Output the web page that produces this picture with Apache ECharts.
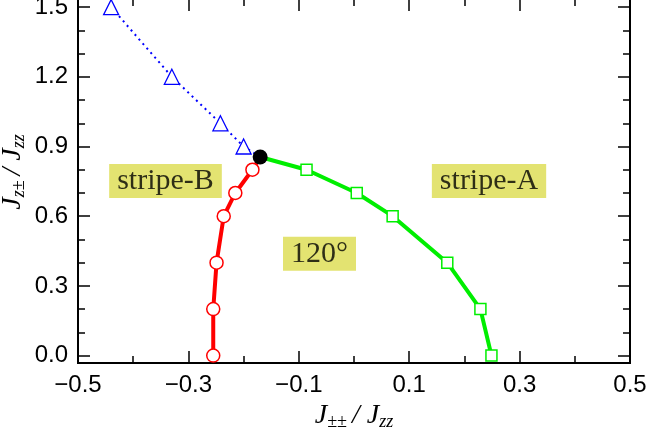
<!DOCTYPE html>
<html>
<head>
<meta charset="utf-8">
<script src="https://cdn.jsdelivr.net/npm/echarts@6/dist/echarts.min.js"></script>
<style>
  html, body { margin: 0; padding: 0; background: #fff; }
  #chart { width: 648px; height: 430px; }
</style>
</head>
<body>
<div id="chart"></div>
<script>
// phase boundary points
const blueLine = [[-0.44, 1.5], [-0.33, 1.2], [-0.242, 1.0], [-0.2, 0.9]];
const redLine = [[-0.255, 0.0], [-0.255, 0.2], [-0.249, 0.4], [-0.236, 0.6], [-0.215, 0.7], [-0.184, 0.8]];
const greenLine = [[0.249, 0.0], [0.229, 0.2], [0.169, 0.4], [0.07, 0.6], [0.005, 0.7], [-0.086, 0.8]];
const junction = [-0.17, 0.855];

const phaseNames = ["stripe-B", "stripe-A", "120°"];
const phasePos = [[-0.3415, 0.752], [0.2446, 0.752], [-0.0625, 0.438]];

const xMajor = [-0.5, -0.3, -0.1, 0.1, 0.3, 0.5];
const xMinor = [-0.4, -0.2, 0.0, 0.2, 0.4];
const yMajor = [0.0, 0.3, 0.6, 0.9, 1.2, 1.5];
const yMinor = [0.1, 0.2, 0.4, 0.5, 0.7, 0.8, 1.0, 1.1, 1.3, 1.4];

const chart = echarts.init(document.getElementById("chart"));

const xRange = { min: -0.5, max: 0.5 };
const yRange = { min: -0.032, max: 1.535 };
const frameLine = { show: true, onZero: false, lineStyle: { color: "#000", width: 2 } };
const labelFont = { color: "#000", fontSize: 24, fontFamily: "Liberation Sans, Arial, sans-serif" };
const serif = "Liberation Serif, Times New Roman, serif";

function fmtNum(v) {
  return (v < 0 ? "\u2212" : "") + Math.abs(v).toFixed(1);
}

function tickAxis(base, position, values, len, withLabel) {
  return Object.assign({
    type: "value",
    position: position,
    axisLine: frameLine,
    splitLine: { show: false },
    axisTick: { show: true, inside: true, length: len, customValues: values, lineStyle: { color: "#000", width: 1.5 } },
    axisLabel: withLabel
      ? Object.assign({ show: true, customValues: values, margin: 10, formatter: fmtNum }, labelFont)
      : { show: false }
  }, base);
}

function withJunction(points) {
  return points.map(p => ({ value: p })).concat([{ value: junction, symbol: "none" }]);
}

// subscripts drop to the bottom of the taller main-letter line
const richTitle = {
  j: { fontFamily: serif, fontStyle: "italic", fontSize: 28, lineHeight: 30, color: "#000" },
  d: { fontFamily: serif, fontStyle: "italic", fontSize: 28, lineHeight: 30, color: "#000", padding: [0, 7, 0, 5] },
  s: { fontFamily: serif, fontStyle: "italic", fontSize: 18, lineHeight: 12, verticalAlign: "bottom", color: "#000" }
};

chart.setOption({
  animation: false,
  backgroundColor: "#fff",
  grid: { left: 78, right: 18, top: -1, bottom: 67, containLabel: false, outerBoundsMode: "none" },
  xAxis: [
    tickAxis(Object.assign({
      name: "{j|J}{s|±±}{d|/}{j|J}{s|zz}", nameLocation: "middle", nameGap: 36,
      nameTextStyle: { rich: richTitle }
    }, xRange), "bottom", xMajor, 12, true),
    tickAxis(Object.assign({}, xRange), "bottom", xMinor, 7, false),
    tickAxis(Object.assign({}, xRange), "top", xMajor, 12, false),
    tickAxis(Object.assign({}, xRange), "top", xMinor, 7, false)
  ],
  yAxis: [
    tickAxis(Object.assign({
      name: "{j|J}{s|z±}{d|/}{j|J}{s|zz}", nameLocation: "middle", nameGap: 50, nameRotate: 90,
      nameMoveOverlap: false,
      nameTextStyle: { rich: richTitle, padding: [0, 0, 0, 18] }
    }, yRange), "left", yMajor, 12, true),
    tickAxis(Object.assign({}, yRange), "left", yMinor, 7, false),
    tickAxis(Object.assign({}, yRange), "right", yMajor, 12, false),
    tickAxis(Object.assign({}, yRange), "right", yMinor, 7, false)
  ],
  series: [
    {
      type: "line",
      data: withJunction(blueLine),
      symbol: "triangle",
      symbolSize: 15,
      itemStyle: { color: "#fff", borderColor: "#0000ff", borderWidth: 1.3 },
      lineStyle: { color: "#0000ff", width: 2, type: [2, 4] },
      z: 2
    },
    {
      type: "line",
      data: withJunction(redLine),
      symbol: "circle",
      symbolSize: 13,
      itemStyle: { color: "#fff", borderColor: "#ff0000", borderWidth: 1.5 },
      lineStyle: { color: "#ff0000", width: 4 },
      z: 3
    },
    {
      type: "line",
      data: withJunction(greenLine),
      symbol: "rect",
      symbolSize: 11,
      itemStyle: { color: "#fff", borderColor: "#00ee00", borderWidth: 1.5 },
      lineStyle: { color: "#00ee00", width: 4 },
      z: 3
    },
    {
      type: "scatter",
      data: [junction],
      symbol: "circle",
      symbolSize: 15,
      itemStyle: { color: "#000", opacity: 1 },
      z: 5
    },
    {
      type: "scatter",
      data: phaseNames.map((n, i) => ({ name: n, value: phasePos[i] })),
      symbolSize: 0,
      silent: true,
      label: {
        show: true,
        position: "inside",
        formatter: p => p.name,
        fontFamily: serif,
        fontSize: 30,
        lineHeight: 30,
        color: "#000",
        backgroundColor: "#dcdc4e",
        padding: [2, 8, 2, 8]
      },
      z: 4
    }
  ]
});
</script>
</body>
</html>
